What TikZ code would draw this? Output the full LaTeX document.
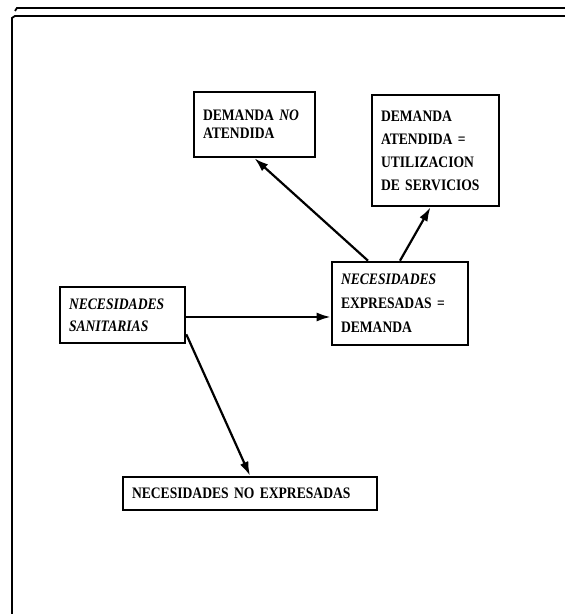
\documentclass[tikz,border=0pt]{standalone}
\usepackage{fontspec}
\setmainfont{Liberation Serif}[FakeStretch=0.85]
\usetikzlibrary{arrows.meta, positioning, calc}

\begin{document}
\begin{tikzpicture}[
      x=1pt, y=1pt,
      blk/.style = {draw, line width=2.6pt, align=left, inner sep=8pt,
                    font=\fontsize{16}{22}\selectfont\bfseries},
      frm/.style = {line width=1.8pt},
      >={Latex[length=14pt,width=9pt]}, line width=2.2pt
    ]
    \useasboundingbox (0,0) rectangle (565,614);
    % marco
    \draw[frm] (12,0) -- (12,596) -- (15,598) -- (565,598);
    \draw[frm] (15,603) -- (17,606) -- (565,606);
    % cajas
    \node[blk, minimum width=121pt, minimum height=65pt, text width=103pt,
          font=\fontsize{16}{18}\selectfont\bfseries]
          (noaten) at (254.5,489.5) {DEMANDA \textit{NO}\\ATENDIDA};
    \node[blk, minimum width=127pt, minimum height=111pt, text width=109pt,
          font=\fontsize{16}{23}\selectfont\bfseries]
          (aten) at (435.5,463.5) {DEMANDA\\ATENDIDA =\\UTILIZACION\\DE SERVICIOS};
    \node[blk, minimum width=136pt, minimum height=83pt, text width=118pt,
          font=\fontsize{16}{24}\selectfont\bfseries]
          (expr) at (400,310.5) {\textit{NECESIDADES}\\EXPRESADAS =\\DEMANDA};
    \node[blk, minimum width=125pt, minimum height=56pt, text width=107pt]
          (sanit) at (122.5,299) {\textit{NECESIDADES}\\\textit{SANITARIAS}};
    \node[blk, minimum width=254pt, minimum height=33pt, text width=236pt]
          (noexpr) at (250,120.5) {NECESIDADES NO EXPRESADAS};
    % flechas
    \draw[->] (sanit.east |- 0,297) -- (expr.west |- 0,297);
    \draw[->] ([yshift=10pt]sanit.south east) -- (noexpr.north);
    \draw[->] ([xshift=-32pt]expr.north) -- (noaten.south);
    \draw[->] (expr.north) -- ([xshift=-5pt]aten.south);
  \end{tikzpicture}
\end{document}
